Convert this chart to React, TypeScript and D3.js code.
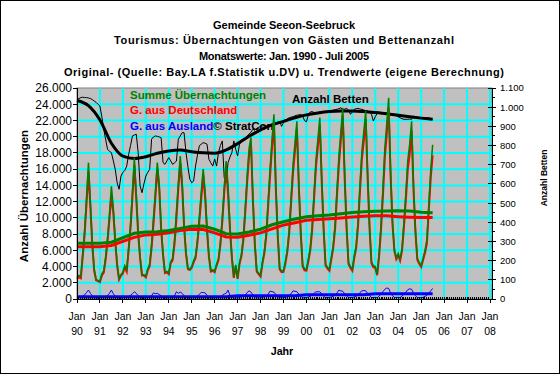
import { useEffect, useRef } from "react"
import * as d3 from "d3"

// Monatswerte Jan 1990 - Jul 2005 (eine Zeile = ein Jahr)
const summe = [
	2600, 2900, 2800, 5600, 8500, 12600, 16800, 12000, 7000, 3700, 2400, 2300,
	2200, 3100, 3500, 5200, 7600, 10600, 13900, 11200, 7400, 4300, 2500, 3000,
	3300, 4100, 3600, 6300, 9200, 13200, 17400, 13000, 8400, 5200, 3000, 3000,
	2800, 3700, 4300, 6700, 10000, 13200, 16800, 14200, 9000, 5600, 3300, 3400,
	3200, 4600, 5000, 7200, 10800, 14300, 17600, 14500, 9300, 5800, 3800, 3700,
	4000, 4700, 5300, 7300, 10200, 13200, 16000, 13300, 8800, 5400, 3500, 3600,
	3450, 4300, 5000, 7000, 10000, 13700, 17000, 14000, 9000, 5300, 2700, 4200,
	2600, 4500, 5500, 7600, 11200, 15200, 18600, 19900, 12600, 7000, 3500, 3200,
	2900, 4600, 5900, 8200, 12200, 16200, 19600, 22750, 14000, 8000, 3800, 3450,
	3500, 4600, 6100, 8600, 12600, 16600, 19200, 21900, 14500, 8500, 4200, 3700,
	3660, 4900, 6300, 9000, 13100, 17200, 19700, 22350, 15000, 8800, 4300, 3900,
	3660, 5100, 6600, 9200, 13600, 17700, 20600, 23570, 15500, 9000, 4500, 4000,
	3660, 5300, 6600, 9600, 14100, 18200, 20600, 23160, 15600, 9100, 4600, 4100,
	4000, 3100, 5600, 9100, 13600, 18600, 21600, 24800, 16000, 9600, 6100, 5100,
	5600, 4900, 6300, 9500, 13100, 17100, 19100, 21900, 14100, 8600, 5000, 4500,
	4100, 5000, 6000, 7300, 11700, 15900, 19000,
]

const deutschland = [
	2450, 2700, 2550, 5250, 8000, 11800, 15700, 11300, 6600, 3450, 2300, 2200,
	2080, 2900, 3250, 4900, 7150, 9900, 12800, 10550, 7050, 4100, 2400, 2880,
	3150, 3900, 3380, 6000, 8750, 12550, 16510, 12300, 8000, 5000, 2900, 2880,
	2670, 3520, 4050, 6300, 9250, 12550, 16100, 13650, 8600, 5400, 3200, 3280,
	3050, 4400, 4750, 6800, 9910, 13600, 16750, 13800, 8900, 5550, 3680, 3570,
	3850, 4500, 5050, 6950, 9600, 12400, 15200, 12550, 8350, 5150, 3380, 3470,
	3310, 4120, 4780, 6700, 9550, 13100, 16300, 12900, 8600, 5050, 2600, 4050,
	2480, 4300, 5250, 7250, 10700, 14400, 17600, 19050, 12100, 6700, 3380, 3070,
	2770, 4400, 5620, 7800, 11600, 15220, 18700, 21900, 13450, 7700, 3650, 3300,
	3340, 4380, 5800, 8150, 11950, 15600, 18250, 21000, 13900, 8150, 4050, 3540,
	3490, 4650, 5980, 8500, 12400, 16310, 18810, 21470, 14350, 8450, 4130, 3730,
	3480, 4850, 6270, 8700, 12850, 16600, 19600, 22620, 14850, 8620, 4320, 3820,
	3480, 5050, 6250, 9050, 13300, 17200, 19550, 22160, 14900, 8700, 4420, 3910,
	3800, 2940, 5250, 8500, 12700, 17400, 20250, 23500, 15250, 9200, 5900, 4900,
	5400, 4720, 5950, 8900, 12250, 15950, 17850, 20700, 13400, 8200, 4810, 4330,
	3950, 4800, 5670, 6850, 10950, 14900, 17700,
]

const ausland = [
	150, 200, 250, 350, 500, 800, 1100, 700, 400, 250, 100, 100,
	120, 200, 250, 300, 450, 700, 1100, 650, 350, 200, 100, 120,
	150, 200, 220, 300, 450, 650, 890, 700, 400, 200, 100, 120,
	130, 180, 250, 400, 750, 650, 700, 550, 400, 200, 100, 120,
	150, 200, 250, 400, 890, 700, 850, 700, 400, 250, 120, 130,
	150, 200, 250, 350, 600, 800, 800, 750, 450, 250, 120, 130,
	140, 180, 220, 300, 450, 600, 700, 1100, 400, 250, 100, 150,
	120, 200, 250, 350, 500, 800, 1000, 850, 500, 300, 120, 130,
	130, 200, 280, 400, 600, 980, 900, 850, 550, 300, 150, 150,
	160, 220, 300, 450, 650, 1000, 950, 900, 600, 350, 150, 160,
	170, 250, 320, 500, 700, 890, 890, 880, 650, 350, 170, 170,
	180, 250, 330, 500, 750, 1100, 1000, 950, 650, 380, 180, 180,
	180, 250, 350, 550, 800, 1000, 1050, 1000, 700, 400, 180, 190,
	200, 160, 350, 600, 900, 1200, 1350, 1300, 750, 400, 200, 200,
	200, 180, 350, 600, 850, 1150, 1250, 1200, 700, 400, 190, 170,
	150, 200, 330, 450, 750, 1000, 1300,
]

const betten = [
	1041, 1045, 1050, 1052, 1050, 1050, 1048, 1045, 1040, 1032, 1025, 1015,
	1006, 950, 885, 830, 780, 770, 763, 720, 676, 606, 572, 641,
	660, 670, 693, 754, 800, 850, 855, 859, 763, 589, 554, 600,
	641, 660, 676, 833, 845, 850, 848, 845, 841, 711, 702, 720,
	737, 720, 702, 710, 719, 833, 850, 867, 867, 763, 690, 624,
	606, 615, 693, 750, 798, 808, 815, 812, 807, 728, 710, 693,
	730, 693, 763, 800, 824, 632, 606, 711, 740, 763, 824, 780,
	746, 807, 820, 833, 840, 850, 860, 870, 885, 880, 890, 895,
	900, 902, 905, 900, 905, 910, 911, 915, 918, 922, 925, 900,
	920, 930, 940, 945, 948, 950, 955, 958, 960, 962, 955, 930,
	924, 960, 975, 977, 972, 970, 972, 975, 976, 978, 975, 978,
	980, 982, 985, 987, 989, 992, 997, 985, 990, 994, 985, 963,
	975, 989, 992, 994, 990, 989, 985, 982, 980, 975, 963, 928,
	950, 968, 971, 972, 971, 971, 970, 968, 963, 960, 958, 955,
	950, 945, 940, 937, 937, 937, 938, 937, 954, 950, 948, 946,
	945, 945, 945, 944, 945, 940, 937,
]

const trendJahre = [
	1990, 1990.5, 1991, 1991.5, 1992, 1992.5, 1993, 1993.5, 1994, 1994.5,
	1995, 1995.5, 1996, 1996.5, 1997, 1997.5, 1998, 1998.5, 1999, 1999.5,
	2000, 2000.5, 2001, 2001.5, 2002, 2002.5, 2003, 2003.5, 2004, 2004.5,
	2005, 2005.5,
]
const trendSumme = [
	6860, 6860, 6860, 7000, 7550, 8100, 8250, 8300, 8450, 8700,
	8950, 9000, 8600, 8050, 8000, 8250, 8600, 9150, 9520, 9850,
	10140, 10250, 10350, 10500, 10650, 10760, 10800, 10850, 10880, 10850,
	10700, 10640,
]
const trendDeutschland = [
	6450, 6450, 6450, 6600, 7100, 7600, 7900, 7970, 8150, 8450,
	8590, 8550, 8150, 7650, 7600, 7850, 8150, 8650, 9100, 9400,
	9700, 9800, 9900, 9990, 10100, 10200, 10260, 10250, 10150, 10080,
	10040, 10030,
]
const trendAusland = [
	290, 290, 290, 290, 290, 290, 290, 290, 290, 290,
	290, 290, 290, 290, 410, 410, 410, 410, 410, 410,
	530, 530, 530, 530, 530, 530, 650, 650, 650, 650,
	650, 650,
]
const trendBetten = [
	1035, 1008, 933, 812, 745, 733, 742, 760, 772, 777,
	768, 762, 760, 777, 810, 848, 882, 908, 926, 945,
	960, 970, 977, 980, 980, 977, 972, 966, 958, 950,
	943, 937,
]

const jahrLabels = ["90", "91", "92", "93", "94", "95", "96", "97", "98", "99", "00", "01", "02", "03", "04", "05", "06", "07", "08"]
const leftTicks = [0, 2000, 4000, 6000, 8000, 10000, 12000, 14000, 16000, 18000, 20000, 22000, 24000, 26000]
const rightTicks = [0, 100, 200, 300, 400, 500, 600, 700, 800, 900, 1000, 1100]

const titel = [
	"Gemeinde Seeon-Seebruck",
	"Tourismus: Übernachtungen von Gästen und Bettenanzahl",
	"Monatswerte: Jan. 1990 - Juli 2005",
	"Original- (Quelle: Bay.LA f.Statistik u.DV) u. Trendwerte (eigene Berechnung)",
]
// breite der titelzeilen im original (px)
const titelBreite = [142, 340, 170, 440]

const Chart = () => {
	const svgRef = useRef(null)

	useEffect(() => {
		const svg = d3.select(svgRef.current)
		svg.selectAll("*").remove()

		const width = 560
		const height = 374
		const left = 77
		const right = 490
		const axisRight = 492
		const top = 88
		const bottom = 299
		const font = "'Liberation Sans', Arial, Helvetica, sans-serif"

		const de = d3.formatLocale({ decimal: ",", thousands: ".", grouping: [3], currency: ["", " €"] })
		const fmt = de.format(",")

		const x = d3.scaleLinear().domain([1990, 2008]).range([left, right])
		const y = d3.scaleLinear().domain([0, 26000]).range([bottom, top])
		const y2 = d3.scaleLinear().domain([0, 1100]).range([bottom, top])
		const monat = (i: number) => 1990 + i / 12

		svg.attr("width", width).attr("height", height)

		svg.append("rect")
			.attr("x", 0.5).attr("y", 0.5)
			.attr("width", width - 1).attr("height", height - 1)
			.attr("fill", "#fff").attr("stroke", "#000")

		// titel
		titel.forEach((t, i) => {
			svg.append("text")
				.attr("x", 284).attr("y", 28.5 + i * 15.7)
				.attr("text-anchor", "middle")
				.attr("textLength", titelBreite[i])
				.attr("lengthAdjust", "spacing")
				.style("font-family", font).style("font-size", "11px").style("font-weight", "bold")
				.text(t)
		})

		// plot area
		svg.append("rect")
			.attr("x", left).attr("y", top)
			.attr("width", axisRight - left).attr("height", bottom - top)
			.attr("fill", "#c0c0c0").attr("stroke", "#808080")

		const grid = svg.append("g").attr("stroke", "#00ffff").attr("stroke-width", 2)
		leftTicks.filter((d) => d > 0 && d < 26000).forEach((d) => {
			grid.append("line").attr("x1", left).attr("x2", axisRight).attr("y1", y(d)).attr("y2", y(d))
		})
		d3.range(1991, 2009).forEach((yr) => {
			grid.append("line").attr("x1", x(yr)).attr("x2", x(yr)).attr("y1", top).attr("y2", bottom)
		})

		// legende im diagramm
		const leg = svg.append("g").style("font-family", font).style("font-size", "11.5px").style("font-weight", "bold")
		leg.append("text").attr("x", 130).attr("y", 99).attr("fill", "#008000").text("Summe Übernachtungen")
		leg.append("text").attr("x", 130).attr("y", 114).attr("fill", "#ff0000").text("G. aus Deutschland")
		const l3 = leg.append("text").attr("x", 130).attr("y", 129.5)
		l3.append("tspan").attr("fill", "#0000ff").text("G. aus Ausland")
		l3.append("tspan").attr("fill", "#000").text("© StratCon")
		leg.append("text").attr("x", 292).attr("y", 102.5).attr("fill", "#000").text("Anzahl Betten")

		const lineM = (scale: any) => d3.line<number>().x((_, i) => x(monat(i))).y((d) => scale(d))
		const lineT = (scale: any) => d3.line<number>().x((_, i) => x(trendJahre[i])).y((d) => scale(d))

		// betten (rechte achse)
		svg.append("path").attr("d", lineM(y2)(betten)).attr("fill", "none").attr("stroke", "#000").attr("stroke-width", 1)
		svg.append("path").attr("d", lineT(y2).curve(d3.curveMonotoneX)(trendBetten)).attr("fill", "none").attr("stroke", "#000").attr("stroke-width", 3)

		// uebernachtungen
		svg.append("path").attr("d", lineM(y)(deutschland)).attr("fill", "none").attr("stroke", "#ff0000").attr("stroke-width", 2)
		svg.append("path").attr("d", lineM(y)(summe)).attr("fill", "none").attr("stroke", "#008000").attr("stroke-width", 1.5)
		svg.append("path").attr("d", lineM(y)(ausland)).attr("fill", "none").attr("stroke", "#0000ff").attr("stroke-width", 1)

		svg.append("path").attr("d", lineT(y)(trendDeutschland)).attr("fill", "none").attr("stroke", "#ff0000").attr("stroke-width", 3)
		svg.append("path").attr("d", lineT(y)(trendSumme)).attr("fill", "none").attr("stroke", "#008000").attr("stroke-width", 3)
		svg.append("path").attr("d", lineT(y)(trendAusland)).attr("fill", "none").attr("stroke", "#0000ff").attr("stroke-width", 3)

		// achsen
		const ax = svg.append("g").attr("stroke", "#000").attr("stroke-width", 1).attr("shape-rendering", "crispEdges")
		ax.append("line").attr("x1", left).attr("x2", left).attr("y1", top).attr("y2", bottom + 0.5)
		ax.append("line").attr("x1", axisRight).attr("x2", axisRight).attr("y1", top).attr("y2", bottom + 0.5)
		ax.append("line").attr("x1", left).attr("x2", axisRight).attr("y1", bottom).attr("y2", bottom)

		leftTicks.forEach((d) => {
			ax.append("line").attr("x1", left - 4).attr("x2", left).attr("y1", y(d)).attr("y2", y(d))
			svg.append("text")
				.attr("x", 72).attr("y", y(d)).attr("dy", "0.36em")
				.attr("text-anchor", "end")
				.style("font-family", font).style("font-size", "12px")
				.text(fmt(d))
		})

		d3.range(50, 1100, 100).forEach((d) => {
			ax.append("line").attr("x1", axisRight).attr("x2", axisRight + 3).attr("y1", y2(d)).attr("y2", y2(d))
		})
		rightTicks.forEach((d) => {
			ax.append("line").attr("x1", axisRight - 4).attr("x2", axisRight + 4).attr("y1", y2(d)).attr("y2", y2(d))
			svg.append("text")
				.attr("x", 500).attr("y", y2(d)).attr("dy", "0.36em")
				.style("font-family", font).style("font-size", "9.5px")
				.text(fmt(d))
		})

		d3.range(0, 216).forEach((m) => {
			ax.append("line").attr("x1", x(monat(m))).attr("x2", x(monat(m))).attr("y1", bottom - 2).attr("y2", bottom)
		})
		jahrLabels.forEach((lab, i) => {
			const xx = x(1990 + i)
			ax.append("line").attr("x1", xx).attr("x2", xx).attr("y1", bottom).attr("y2", bottom + 4)
			const t = svg.append("text")
				.attr("text-anchor", "middle")
				.style("font-family", font).style("font-size", "10.5px")
			t.append("tspan").attr("x", xx).attr("y", 320).text("Jan")
			t.append("tspan").attr("x", xx).attr("y", 335).text(lab)
		})

		// achsentitel
		svg.append("text")
			.attr("transform", "translate(28,196) rotate(-90)")
			.attr("text-anchor", "middle")
			.style("font-family", font).style("font-size", "11.5px").style("font-weight", "bold")
			.text("Anzahl Übernachtungen")
		svg.append("text")
			.attr("transform", "translate(547,178) rotate(-90)")
			.attr("text-anchor", "middle")
			.style("font-family", font).style("font-size", "8.5px").style("font-weight", "bold")
			.text("Anzahl Betten")
		svg.append("text")
			.attr("x", 282).attr("y", 355)
			.attr("text-anchor", "middle")
			.style("font-family", font).style("font-size", "10.7px").style("font-weight", "bold")
			.text("Jahr")
	}, [])

	return <svg ref={svgRef} style={{ position: "absolute", left: 0, top: 0 }}></svg>
}

export default function App() {
	return <Chart />
}
